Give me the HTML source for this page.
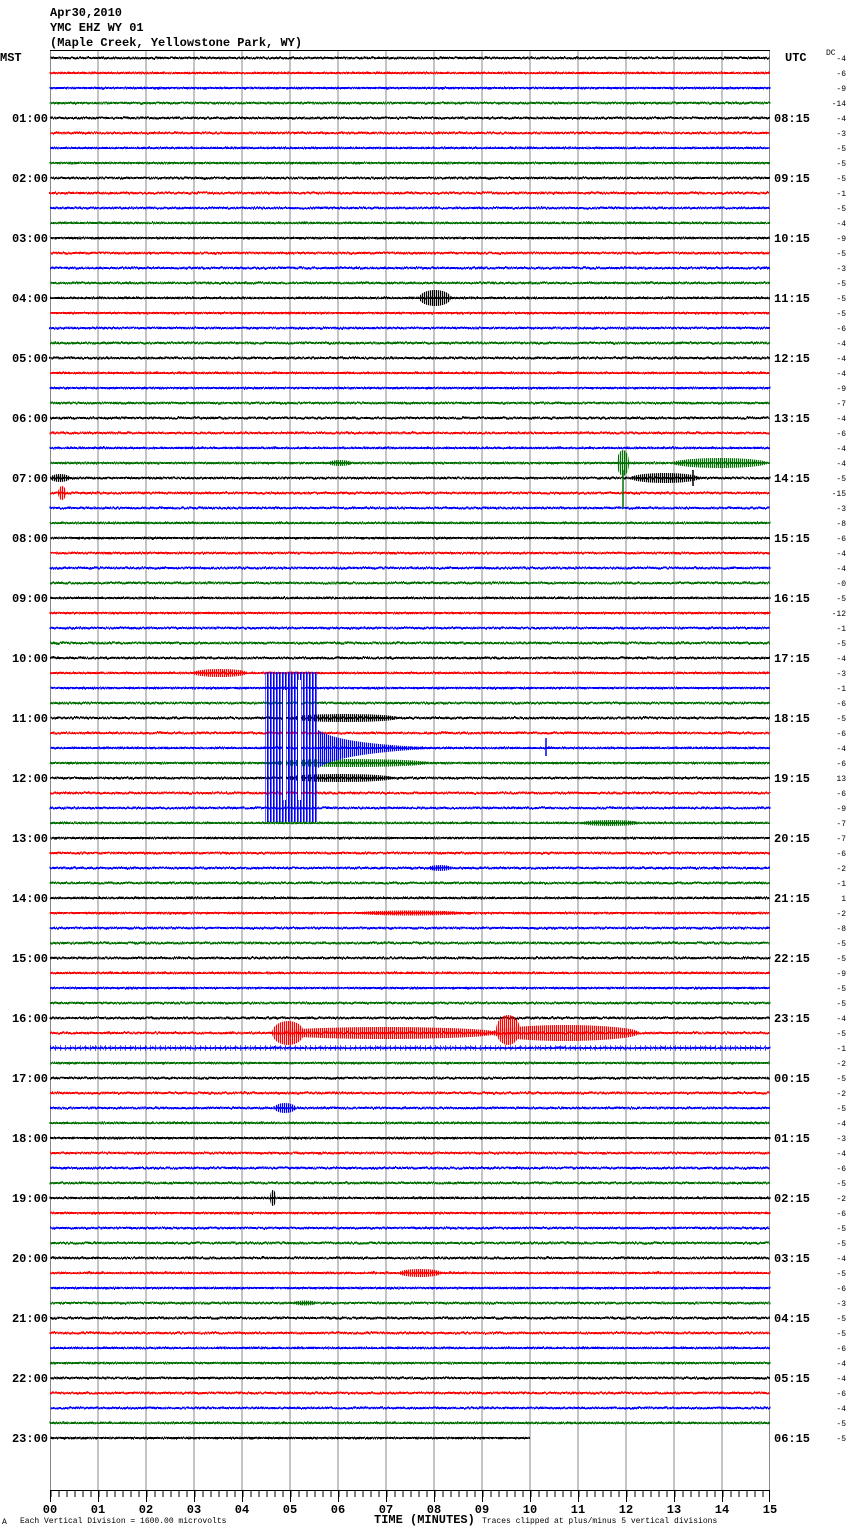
<!DOCTYPE html>
<html><head><meta charset="utf-8"><style>
body{margin:0;background:#fff}
svg{display:block}
.h{font-family:"Liberation Mono",monospace;font-weight:bold;font-size:12px}
.n{font-family:"Liberation Mono",monospace;font-size:8px}
</style></head><body>
<svg width="850" height="1534" viewBox="0 0 850 1534" xmlns="http://www.w3.org/2000/svg">
<defs>
<pattern id="tr" patternUnits="userSpaceOnUse" x="50" y="50" width="720" height="60">
<rect x="0" y="7" width="720" height="2" fill="#000"/>
<rect x="0" y="22" width="720" height="2" fill="#f00"/>
<rect x="0" y="37" width="720" height="2" fill="#00f"/>
<rect x="0" y="52" width="720" height="2" fill="#007000"/>
</pattern>
<pattern id="pb" patternUnits="userSpaceOnUse" width="3" height="10"><rect width="1.6" height="10" fill="#00f"/></pattern>
<pattern id="pk" patternUnits="userSpaceOnUse" width="2" height="10"><rect width="1.2" height="10" fill="#000"/></pattern>
<pattern id="pr" patternUnits="userSpaceOnUse" width="2" height="10"><rect width="1.2" height="10" fill="#f00"/></pattern>
<pattern id="pg" patternUnits="userSpaceOnUse" width="2" height="10"><rect width="1.2" height="10" fill="#007000"/></pattern>
<pattern id="pbl" patternUnits="userSpaceOnUse" width="2" height="10"><rect width="1.2" height="10" fill="#00f"/></pattern>
<pattern id="pbs" patternUnits="userSpaceOnUse" width="5" height="10"><rect width="1" height="10" fill="#00f"/></pattern>
<filter id="nz" x="-1%" y="-2%" width="102%" height="104%">
<feTurbulence type="fractalNoise" baseFrequency="0.9 0.08" numOctaves="2" seed="3"/>
<feDisplacementMap in="SourceGraphic" scale="3" xChannelSelector="R" yChannelSelector="G"/>
</filter>
</defs>
<text class="h" x="50" y="16">Apr30,2010</text>
<text class="h" x="50" y="31">YMC EHZ WY 01</text>
<text class="h" x="50" y="46">(Maple Creek, Yellowstone Park, WY)</text>
<text class="h" x="0" y="61">MST</text>
<text class="h" x="785" y="61">UTC</text>
<text class="n" x="826" y="55" font-size="7">DC</text>
<g stroke="#888" stroke-width="1">
<line x1="98" y1="50" x2="98" y2="1490"/><line x1="146" y1="50" x2="146" y2="1490"/><line x1="194" y1="50" x2="194" y2="1490"/><line x1="242" y1="50" x2="242" y2="1490"/><line x1="290" y1="50" x2="290" y2="1490"/><line x1="338" y1="50" x2="338" y2="1490"/><line x1="386" y1="50" x2="386" y2="1490"/><line x1="434" y1="50" x2="434" y2="1490"/><line x1="482" y1="50" x2="482" y2="1490"/><line x1="530" y1="50" x2="530" y2="1490"/><line x1="578" y1="50" x2="578" y2="1490"/><line x1="626" y1="50" x2="626" y2="1490"/><line x1="674" y1="50" x2="674" y2="1490"/><line x1="722" y1="50" x2="722" y2="1490"/>
<line x1="50.5" y1="50" x2="50.5" y2="1490"/><line x1="769.5" y1="50" x2="769.5" y2="1490"/>
</g>
<line x1="50" y1="50.5" x2="770" y2="50.5" stroke="#000"/>
<g filter="url(#nz)">
<rect x="50" y="50" width="720" height="1380" fill="url(#tr)"/>
<rect x="50" y="1437" width="480" height="2" fill="#000"/>
</g>
<ellipse cx="435" cy="298" rx="16" ry="8" fill="url(#pk)"/>
<ellipse cx="623" cy="463" rx="6" ry="13" fill="url(#pg)"/>
<ellipse cx="720" cy="463" rx="48" ry="5" fill="url(#pg)"/>
<ellipse cx="340" cy="463" rx="12" ry="3" fill="url(#pg)"/>
<ellipse cx="665" cy="478" rx="35" ry="5" fill="url(#pk)"/>
<line x1="693" y1="470" x2="693" y2="486" stroke="#000" stroke-width="1.5"/>
<line x1="623" y1="470" x2="623" y2="508" stroke="#007000" stroke-width="1.5"/>
<ellipse cx="60" cy="478" rx="10" ry="4" fill="url(#pk)"/>
<ellipse cx="62" cy="493" rx="4" ry="7" fill="url(#pr)"/>
<ellipse cx="220" cy="673" rx="28" ry="4" fill="url(#pr)"/>
<ellipse cx="345" cy="718" rx="55" ry="4" fill="url(#pk)"/>
<ellipse cx="340" cy="778" rx="55" ry="4" fill="url(#pk)"/>
<ellipse cx="350" cy="763" rx="80" ry="4" fill="url(#pg)"/>
<path d="M318,730 Q340,745 450,748 Q340,752 318,768 Z" fill="url(#pbl)"/>
<line x1="546" y1="738" x2="546" y2="756" stroke="#00f" stroke-width="1.5"/>
<ellipse cx="610" cy="823" rx="30" ry="3" fill="url(#pg)"/>
<rect x="265" y="672" width="53" height="150" fill="url(#pb)"/>
<rect x="283" y="690" width="3" height="110" fill="#fff"/>
<rect x="298" y="680" width="3" height="120" fill="#fff"/>
<ellipse cx="385" cy="1033" rx="115" ry="6" fill="url(#pr)"/>
<ellipse cx="288" cy="1033" rx="16" ry="12" fill="url(#pr)"/>
<ellipse cx="565" cy="1033" rx="75" ry="8" fill="url(#pr)"/>
<ellipse cx="508" cy="1030" rx="12" ry="15" fill="url(#pr)"/>
<rect x="50" y="1045" width="720" height="6" fill="url(#pbs)" opacity="0.6"/>
<rect x="50" y="1061" width="200" height="4" fill="url(#pbs)" opacity="0"/>
<ellipse cx="285" cy="1108" rx="11" ry="5" fill="url(#pbl)"/>
<ellipse cx="273" cy="1198" rx="3" ry="8" fill="url(#pk)"/>
<ellipse cx="420" cy="1273" rx="22" ry="4" fill="url(#pr)"/>
<ellipse cx="305" cy="1303" rx="12" ry="2.5" fill="url(#pg)"/>
<ellipse cx="440" cy="868" rx="12" ry="3" fill="url(#pbl)"/>
<ellipse cx="410" cy="913" rx="55" ry="2.5" fill="url(#pr)"/>
<g class="h" text-anchor="end">
<text x="48" y="122">01:00</text><text x="48" y="182">02:00</text><text x="48" y="242">03:00</text><text x="48" y="302">04:00</text><text x="48" y="362">05:00</text><text x="48" y="422">06:00</text><text x="48" y="482">07:00</text><text x="48" y="542">08:00</text><text x="48" y="602">09:00</text><text x="48" y="662">10:00</text><text x="48" y="722">11:00</text><text x="48" y="782">12:00</text><text x="48" y="842">13:00</text><text x="48" y="902">14:00</text><text x="48" y="962">15:00</text><text x="48" y="1022">16:00</text><text x="48" y="1082">17:00</text><text x="48" y="1142">18:00</text><text x="48" y="1202">19:00</text><text x="48" y="1262">20:00</text><text x="48" y="1322">21:00</text><text x="48" y="1382">22:00</text><text x="48" y="1442">23:00</text>
</g>
<g class="h">
<text x="774" y="122">08:15</text><text x="774" y="182">09:15</text><text x="774" y="242">10:15</text><text x="774" y="302">11:15</text><text x="774" y="362">12:15</text><text x="774" y="422">13:15</text><text x="774" y="482">14:15</text><text x="774" y="542">15:15</text><text x="774" y="602">16:15</text><text x="774" y="662">17:15</text><text x="774" y="722">18:15</text><text x="774" y="782">19:15</text><text x="774" y="842">20:15</text><text x="774" y="902">21:15</text><text x="774" y="962">22:15</text><text x="774" y="1022">23:15</text><text x="774" y="1082">00:15</text><text x="774" y="1142">01:15</text><text x="774" y="1202">02:15</text><text x="774" y="1262">03:15</text><text x="774" y="1322">04:15</text><text x="774" y="1382">05:15</text><text x="774" y="1442">06:15</text>
</g>
<g class="n" text-anchor="end">
<text x="846" y="61">-4</text><text x="846" y="76">-6</text><text x="846" y="91">-9</text><text x="846" y="106">-14</text>
<text x="846" y="121">-4</text><text x="846" y="136">-3</text><text x="846" y="151">-5</text><text x="846" y="166">-5</text>
<text x="846" y="181">-5</text><text x="846" y="196">-1</text><text x="846" y="211">-5</text><text x="846" y="226">-4</text>
<text x="846" y="241">-9</text><text x="846" y="256">-5</text><text x="846" y="271">-3</text><text x="846" y="286">-5</text>
<text x="846" y="301">-5</text><text x="846" y="316">-5</text><text x="846" y="331">-6</text><text x="846" y="346">-4</text>
<text x="846" y="361">-4</text><text x="846" y="376">-4</text><text x="846" y="391">-9</text><text x="846" y="406">-7</text>
<text x="846" y="421">-4</text><text x="846" y="436">-6</text><text x="846" y="451">-4</text><text x="846" y="466">-4</text>
<text x="846" y="481">-5</text><text x="846" y="496">-15</text><text x="846" y="511">-3</text><text x="846" y="526">-8</text>
<text x="846" y="541">-6</text><text x="846" y="556">-4</text><text x="846" y="571">-4</text><text x="846" y="586">-0</text>
<text x="846" y="601">-5</text><text x="846" y="616">-12</text><text x="846" y="631">-1</text><text x="846" y="646">-5</text>
<text x="846" y="661">-4</text><text x="846" y="676">-3</text><text x="846" y="691">-1</text><text x="846" y="706">-6</text>
<text x="846" y="721">-5</text><text x="846" y="736">-6</text><text x="846" y="751">-4</text><text x="846" y="766">-6</text>
<text x="846" y="781">13</text><text x="846" y="796">-6</text><text x="846" y="811">-9</text><text x="846" y="826">-7</text>
<text x="846" y="841">-7</text><text x="846" y="856">-6</text><text x="846" y="871">-2</text><text x="846" y="886">-1</text>
<text x="846" y="901">1</text><text x="846" y="916">-2</text><text x="846" y="931">-8</text><text x="846" y="946">-5</text>
<text x="846" y="961">-5</text><text x="846" y="976">-9</text><text x="846" y="991">-5</text><text x="846" y="1006">-5</text>
<text x="846" y="1021">-4</text><text x="846" y="1036">-5</text><text x="846" y="1051">-1</text><text x="846" y="1066">-2</text>
<text x="846" y="1081">-5</text><text x="846" y="1096">-2</text><text x="846" y="1111">-5</text><text x="846" y="1126">-4</text>
<text x="846" y="1141">-3</text><text x="846" y="1156">-4</text><text x="846" y="1171">-6</text><text x="846" y="1186">-5</text>
<text x="846" y="1201">-2</text><text x="846" y="1216">-6</text><text x="846" y="1231">-5</text><text x="846" y="1246">-5</text>
<text x="846" y="1261">-4</text><text x="846" y="1276">-5</text><text x="846" y="1291">-6</text><text x="846" y="1306">-3</text>
<text x="846" y="1321">-5</text><text x="846" y="1336">-5</text><text x="846" y="1351">-6</text><text x="846" y="1366">-4</text>
<text x="846" y="1381">-4</text><text x="846" y="1396">-6</text><text x="846" y="1411">-4</text><text x="846" y="1426">-5</text>
<text x="846" y="1441">-5</text>
</g>
<line x1="50" y1="1490.5" x2="770" y2="1490.5" stroke="#000"/>
<g stroke="#000" stroke-width="1">
<line x1="50.5" y1="1490" x2="50.5" y2="1502"/><line x1="98.5" y1="1490" x2="98.5" y2="1502"/><line x1="146.5" y1="1490" x2="146.5" y2="1502"/><line x1="194.5" y1="1490" x2="194.5" y2="1502"/><line x1="242.5" y1="1490" x2="242.5" y2="1502"/><line x1="290.5" y1="1490" x2="290.5" y2="1502"/><line x1="338.5" y1="1490" x2="338.5" y2="1502"/><line x1="386.5" y1="1490" x2="386.5" y2="1502"/><line x1="434.5" y1="1490" x2="434.5" y2="1502"/><line x1="482.5" y1="1490" x2="482.5" y2="1502"/><line x1="530.5" y1="1490" x2="530.5" y2="1502"/><line x1="578.5" y1="1490" x2="578.5" y2="1502"/><line x1="626.5" y1="1490" x2="626.5" y2="1502"/><line x1="674.5" y1="1490" x2="674.5" y2="1502"/><line x1="722.5" y1="1490" x2="722.5" y2="1502"/><line x1="769.5" y1="1490" x2="769.5" y2="1502"/>
</g>
<pattern id="mt" patternUnits="userSpaceOnUse" x="50.5" y="1490" width="8" height="7"><rect x="0" y="0" width="1" height="7" fill="#000"/></pattern>
<rect x="50" y="1490" width="720" height="7" fill="url(#mt)"/>
<g class="h" text-anchor="middle">
<text x="50" y="1513">00</text><text x="98" y="1513">01</text><text x="146" y="1513">02</text><text x="194" y="1513">03</text><text x="242" y="1513">04</text><text x="290" y="1513">05</text><text x="338" y="1513">06</text><text x="386" y="1513">07</text><text x="434" y="1513">08</text><text x="482" y="1513">09</text><text x="530" y="1513">10</text><text x="578" y="1513">11</text><text x="626" y="1513">12</text><text x="674" y="1513">13</text><text x="722" y="1513">14</text><text x="770" y="1513">15</text>
</g>
<text class="h" x="374" y="1523">TIME (MINUTES)</text>
<text class="n" x="2" y="1524" font-size="6">A</text>
<text class="n" x="20" y="1523">Each Vertical Division = 1600.00 microvolts</text>
<text class="n" x="482" y="1523">Traces clipped at plus/minus 5 vertical divisions</text>
</svg>
</body></html>
